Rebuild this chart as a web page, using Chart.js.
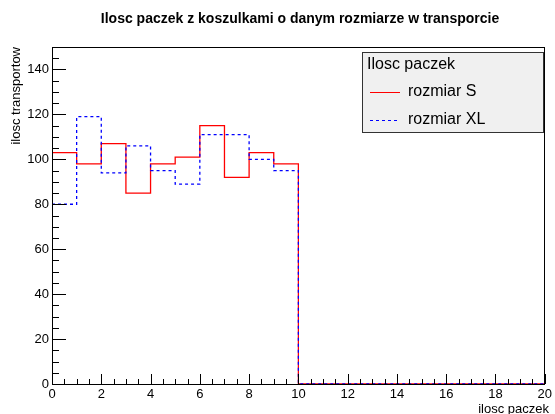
<!DOCTYPE html>
<html><head><meta charset="utf-8">
<script src="https://cdn.jsdelivr.net/npm/chart.js@4/dist/chart.umd.min.js"></script>
<style>html,body{margin:0;padding:0;background:#fff}#wrap{width:555px;height:414px}</style>
</head><body><div id="wrap"><canvas id="c" width="555" height="414"></canvas></div>
<script>
const chartTitle = "Ilosc paczek z koszulkami o danym rozmiarze w transporcie";
const xTitle = "ilosc paczek";
const yTitle = "ilosc transportow";
const legendTitle = "Ilosc paczek";
const binEdges = [0,1,2,3,4,5,6,7,8,9,10,11,12,13,14,15,16,17,18,19,20];
const countsS  = [103,98,107,85,98,101,115,92,103,98,0,0,0,0,0,0,0,0,0,0];
const countsXL = [80,119,94,106,95,89,111,111,100,95,0,0,0,0,0,0,0,0,0,0];
const xTickValues = [0,2,4,6,8,10,12,14,16,18,20];
const yTickValues = [0,20,40,60,80,100,120,140];

function histPoints(counts){
  const pts = counts.map((v,i)=>({x:binEdges[i], y:v}));
  pts.push({x:binEdges[binEdges.length-1], y:counts[counts.length-1]});
  return pts;
}
const FONT = "'Liberation Sans', Arial, sans-serif";

const decor = {
  id:'decor',
  afterDatasetsDraw(chart){
    const ctx = chart.ctx, ca = chart.chartArea;
    const xs = chart.scales.x, ys = chart.scales.y;
    ctx.save();
    ctx.strokeStyle = '#000'; ctx.lineWidth = 1;
    ctx.beginPath();
    for (let v = 0; v <= 20.0001; v += 0.5){
      const px = Math.round(xs.getPixelForValue(v)) + 0.5;
      const len = (Math.abs(v/2 - Math.round(v/2)) < 1e-6) ? 10 : 5;
      ctx.moveTo(px, ca.bottom); ctx.lineTo(px, ca.bottom - len);
    }
    for (let v = 0; v <= 150.0001; v += 5){
      const py = Math.round(ys.getPixelForValue(v)) + 0.5;
      const len = (v % 20 === 0) ? 14 : 7;
      ctx.moveTo(ca.left, py); ctx.lineTo(ca.left + len, py);
    }
    ctx.stroke();
    ctx.strokeRect(Math.round(ca.left)+0.5, Math.round(ca.top)+0.5, Math.round(ca.right-ca.left)-1, Math.round(ca.bottom-ca.top));
    ctx.fillStyle = '#000';
    ctx.font = "bold 14px " + FONT;
    ctx.textAlign = 'center'; ctx.textBaseline = 'middle';
    ctx.fillText(chartTitle, 300, 19.5);
    ctx.font = "13px " + FONT;
    ctx.textAlign = 'right'; ctx.textBaseline = 'alphabetic';
    ctx.fillText(xTitle, 549, 413);
    ctx.save();
    ctx.translate(20, ca.top);
    ctx.rotate(-Math.PI/2);
    ctx.textAlign = 'right';
    ctx.fillText(yTitle, 0, 0);
    ctx.restore();
    const lx = 362.5, ly = 52.5, lw = 181, lh = 80;
    ctx.fillStyle = '#f0f0f0';
    ctx.fillRect(lx, ly, lw, lh);
    ctx.strokeStyle = '#333'; ctx.lineWidth = 1;
    ctx.strokeRect(lx, ly, lw, lh);
    ctx.fillStyle = '#000';
    ctx.font = "16px " + FONT;
    ctx.textAlign = 'left'; ctx.textBaseline = 'middle';
    ctx.fillText(legendTitle, 367, 65);
    chart.data.datasets.forEach((ds, i) => {
      const y = 92 + i*27.5;
      ctx.strokeStyle = ds.borderColor; ctx.lineWidth = 1;
      ctx.setLineDash(ds.borderDash || []);
      ctx.beginPath(); ctx.moveTo(370, Math.round(y)+0.5); ctx.lineTo(400, Math.round(y)+0.5); ctx.stroke();
      ctx.setLineDash([]);
      ctx.fillStyle = '#000';
      ctx.fillText(ds.label, 408, y);
    });
    ctx.restore();
  }
};

new Chart(document.getElementById('c'), {
  type:'line',
  data:{ datasets:[
    {label:'rozmiar S', data:histPoints(countsS), borderColor:'#ff0000', borderWidth:1.3, stepped:'before', pointRadius:0, fill:false, order:2},
    {label:'rozmiar XL', data:histPoints(countsXL), borderColor:'#0000ff', borderWidth:1.3, borderDash:[3,3], stepped:'before', pointRadius:0, fill:false, order:1}
  ]},
  options:{
    responsive:false, animation:false, devicePixelRatio:1,
    layout:{padding:{top:47, right:5, left:0, bottom:0}},
    plugins:{legend:{display:false}, title:{display:false}, tooltip:{enabled:false}},
    scales:{
      x:{type:'linear', min:0, max:20,
         afterBuildTicks(s){ s.ticks = xTickValues.map(v=>({value:v})); },
         afterFit(s){ s.height = 30; },
         grid:{display:false, drawTicks:false}, border:{display:false},
         ticks:{padding:3, color:'#000', font:{family:FONT, size:13}, maxRotation:0}},
      y:{type:'linear', min:0, max:150,
         afterBuildTicks(s){ s.ticks = yTickValues.map(v=>({value:v})); },
         afterFit(s){ s.width = 52; },
         grid:{display:false, drawTicks:false}, border:{display:false},
         ticks:{padding:3, color:'#000', font:{family:FONT, size:13}}}
    }
  },
  plugins:[decor]
});
</script></body></html>
